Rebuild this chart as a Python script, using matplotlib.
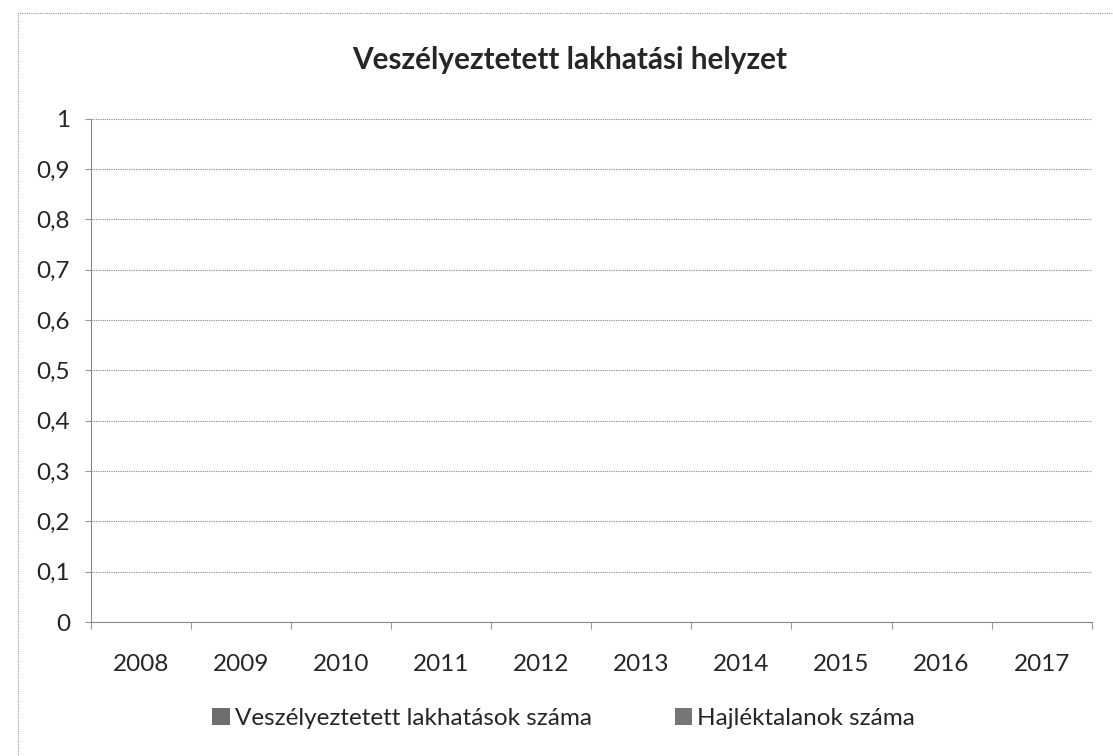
import numpy as np
import matplotlib.pyplot as plt
from matplotlib.patches import Rectangle

# adatok (a diagram üres, nincs érték)
years = ['2008', '2009', '2010', '2011', '2012', '2013', '2014', '2015', '2016', '2017']
veszelyeztetett = [np.nan] * len(years)
hajlektalan = [np.nan] * len(years)
y_ticks = [0, 0.1, 0.2, 0.3, 0.4, 0.5, 0.6, 0.7, 0.8, 0.9, 1]
y_labels = ['0', '0,1', '0,2', '0,3', '0,4', '0,5', '0,6', '0,7', '0,8', '0,9', '1']

plt.rcParams['font.family'] = ['Lato', 'DejaVu Sans']
txt_color = '#262626'

fig = plt.figure(figsize=(11.13, 7.56), dpi=100)
ax = fig.add_axes([0.0818, 0.177, 0.899, 0.666])

x = np.arange(len(years))
w = 0.35
ax.bar(x - w / 2, veszelyeztetett, w, color='#6e6e6e', label='Veszélyeztetett lakhatások száma')
ax.bar(x + w / 2, hajlektalan, w, color='#767676', label='Hajléktalanok száma')

ax.set_xlim(-0.5, len(years) - 0.5)
ax.set_ylim(0, 1)
ax.set_yticks(y_ticks)
ax.set_yticklabels(y_labels, fontsize=17.5, color=txt_color)
ax.set_xticks(x)
ax.set_xticklabels(years, fontsize=17.5, color=txt_color)
ax.tick_params(axis='x', length=0, pad=23)
ax.set_xticks(np.arange(len(years) + 1) - 0.5, minor=True)
ax.tick_params(axis='x', which='minor', length=5, color='#999999', width=0.8)
ax.tick_params(axis='y', length=4, color='#999999', width=0.8, pad=11)

ax.grid(axis='y', linestyle=(0, (1, 1)), color='#888888', linewidth=0.8)
ax.set_axisbelow(True)
for s in ['top', 'right']:
    ax.spines[s].set_visible(False)
for s in ['left', 'bottom']:
    ax.spines[s].set_linestyle((0, (1, 1)))
    ax.spines[s].set_color('#888888')
    ax.spines[s].set_linewidth(0.8)

fig.text(0.512, 0.921, 'Veszélyeztetett lakhatási helyzet', ha='center', va='center',
         fontsize=21.4, fontweight='bold', color=txt_color)

fig.legend(loc='center left', bbox_to_anchor=(0.1905, 0.05), ncol=2, frameon=False,
           borderpad=0, borderaxespad=0,
           fontsize=17.5, handlelength=0.74, handleheight=0.74, handletextpad=0.2,
           columnspacing=3.4, labelcolor=txt_color)

# külső keret
fig.patches.append(Rectangle((0.016, -0.05), 1.1, 1.033, transform=fig.transFigure,
                             fill=False, edgecolor='#999999', linestyle=(0, (1, 1)),
                             linewidth=0.8))

fig.savefig('out.png', dpi=100, facecolor='white')
